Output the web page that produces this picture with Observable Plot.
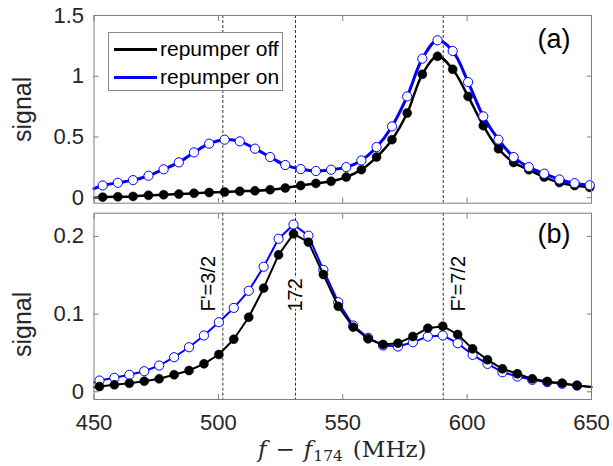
<!DOCTYPE html>
<html><head><meta charset="utf-8">
<script src="https://cdn.jsdelivr.net/npm/d3@7"></script>
<script src="https://cdn.jsdelivr.net/npm/@observablehq/plot@0.6"></script>
<style>
body{margin:0;background:#fff;}
#fig{position:relative;width:613px;height:466px;background:#fff;font-family:"Liberation Sans",Arial,sans-serif;color:#262626;overflow:hidden}
#top,#bottom{position:absolute;left:0}
#top{top:0}
#bottom{top:205px}
#legend{position:absolute;left:108px;top:31.5px;width:175px;height:59px;box-sizing:border-box;border:1px solid #8a8a8a;background:#fff;font-size:21px;color:#000}
#legend .row{position:absolute;left:0;height:28px;line-height:28px;white-space:nowrap}
#legend .sw{position:absolute;left:5px;top:12.5px;width:43px;height:3px}
#legend .lab{position:absolute;left:51px;top:-1px}
#xlabel{position:absolute;left:93.5px;width:497.5px;top:436px;height:27px;line-height:27px;text-align:center;font-family:"DejaVu Serif",serif;font-size:23px;color:#262626;white-space:nowrap}
#xlabel span{display:inline-block;line-height:20px}
</style></head><body>
<div id="fig">
  <div id="top"></div>
  <div id="bottom"></div>
  <div id="legend">
    <div class="row" style="top:3px"><span class="sw" style="background:#000"></span><span class="lab">repumper off</span></div>
    <div class="row" style="top:31px"><span class="sw" style="background:#0000ff"></span><span class="lab">repumper on</span></div>
  </div>
  <div id="xlabel"><i>f</i><span style="margin-left:9px;margin-right:9px">&#8722;</span><i>f</i><span style="font-size:15.5px;line-height:14px;position:relative;top:4px;margin-left:1px">174</span><span style="margin-left:10px">(MHz)</span></div>
</div>
<script>
// ---- data ----
const freqTop = [453.5, 459.6, 465.7, 471.9, 478.0, 484.1, 490.2, 496.3, 502.5, 508.6, 514.7, 520.8, 526.9, 533.1, 539.2, 545.3, 551.4, 557.5, 563.6, 569.8, 575.9, 582.0, 588.1, 594.2, 600.4, 606.5, 612.6, 618.7, 624.8, 631.0, 637.1, 643.2, 649.3];
const offTop = [0.005, 0.008, 0.011, 0.02, 0.025, 0.03, 0.037, 0.043, 0.047, 0.053, 0.057, 0.066, 0.08, 0.1, 0.118, 0.135, 0.17, 0.231, 0.335, 0.478, 0.697, 1.016, 1.164, 1.057, 0.834, 0.593, 0.403, 0.29, 0.23, 0.17, 0.125, 0.10, 0.085];
const onTop = [0.101, 0.123, 0.145, 0.181, 0.234, 0.291, 0.373, 0.445, 0.478, 0.464, 0.404, 0.335, 0.269, 0.236, 0.22, 0.231, 0.252, 0.307, 0.417, 0.587, 0.834, 1.145, 1.296, 1.208, 0.952, 0.67, 0.478, 0.335, 0.252, 0.198, 0.15, 0.12, 0.103];
const offTopEdge = 0.0;   // fitted curve value at 450 MHz
const onTopEdge = 0.075;

const freqBottom = [452.2, 458.2, 464.2, 470.2, 476.2, 482.2, 488.2, 494.2, 500.2, 506.2, 512.2, 518.2, 524.2, 530.2, 536.2, 542.2, 548.2, 554.2, 560.2, 566.2, 572.2, 578.2, 584.2, 590.2, 596.2, 602.2, 608.2, 614.2, 620.2, 626.2, 632.2, 638.2, 644.2];
const offBottom = [0.0068, 0.009, 0.011, 0.0137, 0.0167, 0.0219, 0.0274, 0.036, 0.048, 0.0677, 0.096, 0.1334, 0.1763, 0.2033, 0.1926, 0.151, 0.110, 0.0832, 0.0682, 0.0609, 0.0626, 0.0712, 0.0819, 0.0845, 0.0738, 0.0553, 0.0412, 0.0296, 0.0232, 0.0167, 0.0133, 0.0111, 0.0081];
const onBottom = [0.0145, 0.018, 0.0219, 0.0265, 0.0338, 0.0445, 0.0574, 0.0725, 0.0896, 0.108, 0.130, 0.161, 0.197, 0.2153, 0.201, 0.157, 0.1153, 0.0853, 0.0695, 0.0596, 0.0583, 0.0638, 0.0712, 0.0725, 0.0626, 0.0476, 0.036, 0.0252, 0.0197, 0.0154, 0.0124, 0.0103, 0.0081];
const offBottomEdge = [0.006, 0.006];  // curve values at 450 and 650 MHz
const onBottomEdge = [0.012, 0.0065];

const xTicks = [450, 500, 550, 600, 650];
const yTicksTop = [0, 0.5, 1, 1.5];
const yTicksBottom = [0, 0.1, 0.2];
const transitions = [501.8, 531, 590.4];
const transitionLabels = ["F'=3/2", "172", "F'=7/2"];

// ---- build ----
const axisColor = "#7f7f7f", textColor = "#262626", blue = "#0000ff";
const pts = (xs, ys) => xs.map((f, i) => ({f, v: ys[i]}));

function axes(yTicks, withXLabels) {
  const m = [
    Plot.frame({stroke: axisColor, strokeWidth: 1}),
    Plot.axisX(xTicks, {anchor: "bottom", tickSize: 5, dy: -5, tickFormat: () => "", stroke: axisColor, label: null}),
    Plot.axisX(xTicks, {anchor: "top", tickSize: 5, dy: 5, tickFormat: () => "", stroke: axisColor, label: null}),
    Plot.axisY(yTicks, {anchor: "left", tickSize: 5, dx: 5, tickFormat: () => "", stroke: axisColor, label: null}),
    Plot.axisY(yTicks, {anchor: "right", tickSize: 5, dx: -5, tickFormat: () => "", stroke: axisColor, label: null}),
    Plot.axisY(yTicks, {anchor: "left", tickSize: 0, tickPadding: 10, tickFormat: d => String(d), fontSize: 22, fill: textColor, label: null})
  ];
  if (withXLabels) m.push(Plot.axisX(xTicks, {anchor: "bottom", tickSize: 0, tickPadding: 15, tickFormat: d => String(d), fontSize: 22, fill: textColor, label: null}));
  return m;
}

const common = {width: 613, marginLeft: 93.5, marginRight: 22, style: {fontFamily: '"Liberation Sans", Arial, sans-serif', color: textColor, background: "transparent", overflow: "visible"}};

const topPlot = Plot.plot({
  ...common,
  height: 205, marginTop: 15, marginBottom: 2.3,
  x: {domain: [450, 650]},
  y: {domain: [-0.045, 1.5]},
  marks: [
    Plot.ruleX(transitions, {stroke: "#000", strokeWidth: 0.8, strokeDasharray: "3,2"}),
    Plot.line([{f: 450, v: offTopEdge}, ...pts(freqTop, offTop)], {x: "f", y: "v", stroke: "#000", strokeWidth: 2.5, curve: "catmull-rom"}),
    Plot.dot(pts(freqTop, offTop), {x: "f", y: "v", r: 4.5, fill: "#000", stroke: "#000", strokeWidth: 0.5}),
    Plot.line([{f: 450, v: onTopEdge}, ...pts(freqTop, onTop)], {x: "f", y: "v", stroke: blue, strokeWidth: 3, curve: "catmull-rom"}),
    Plot.dot(pts(freqTop, onTop), {x: "f", y: "v", r: 4.6, fill: "#fff", stroke: blue, strokeWidth: 1}),
    ...axes(yTicksTop, false),
    Plot.text(["signal"], {text: d => d, frameAnchor: "left", textAnchor: "middle", lineAnchor: "middle", dx: -71.5, rotate: -90, fontSize: 25, fill: textColor}),
    Plot.text(["(a)"], {text: d => d, frameAnchor: "top-right", textAnchor: "end", lineAnchor: "middle", dx: -21, dy: 24, fontSize: 27, fill: "#000"})
  ]
});

const bottomLineOff = [{f: 450, v: offBottomEdge[0]}, ...pts(freqBottom, offBottom), {f: 650, v: offBottomEdge[1]}];
const bottomLineOn = [{f: 450, v: onBottomEdge[0]}, ...pts(freqBottom, onBottom), {f: 650, v: onBottomEdge[1]}];
const labelData = transitions.map((f, i) => ({f, t: transitionLabels[i]}));
const labelOpts = {x: "f", text: "t", frameAnchor: "bottom", dy: -88, rotate: -90, textAnchor: "start", lineAnchor: "middle", fontSize: 20, fill: "#000"};

const bottomPlot = Plot.plot({
  ...common,
  height: 235, marginTop: 7.7, marginBottom: 41,
  x: {domain: [450, 650]},
  y: {domain: [-0.0099, 0.2299]},
  marks: [
    Plot.ruleX(transitions, {stroke: "#000", strokeWidth: 0.8, strokeDasharray: "3,2"}),
    Plot.text([labelData[0]], {...labelOpts, dx: -14.5}),
    Plot.text([labelData[1]], {...labelOpts, stroke: "#fff", strokeWidth: 5}),
    Plot.text([labelData[2]], {...labelOpts, dx: 15.6}),
    Plot.line(bottomLineOn, {x: "f", y: "v", stroke: blue, strokeWidth: 2}),
    Plot.dot(pts(freqBottom, onBottom), {x: "f", y: "v", r: 4.6, fill: "#fff", stroke: blue, strokeWidth: 1}),
    Plot.line(bottomLineOff, {x: "f", y: "v", stroke: "#000", strokeWidth: 2}),
    Plot.dot(pts(freqBottom, offBottom), {x: "f", y: "v", r: 4.5, fill: "#000", stroke: "#000", strokeWidth: 0.5}),
    ...axes(yTicksBottom, true),
    Plot.text(["signal"], {text: d => d, frameAnchor: "left", textAnchor: "middle", lineAnchor: "middle", dx: -71.5, dy: 18, rotate: -90, fontSize: 25, fill: textColor}),
    Plot.text(["(b)"], {text: d => d, frameAnchor: "top-right", textAnchor: "end", lineAnchor: "middle", dx: -21, dy: 21, fontSize: 27, fill: "#000"})
  ]
});

document.getElementById("top").appendChild(topPlot);
document.getElementById("bottom").appendChild(bottomPlot);
</script>
</body></html>
